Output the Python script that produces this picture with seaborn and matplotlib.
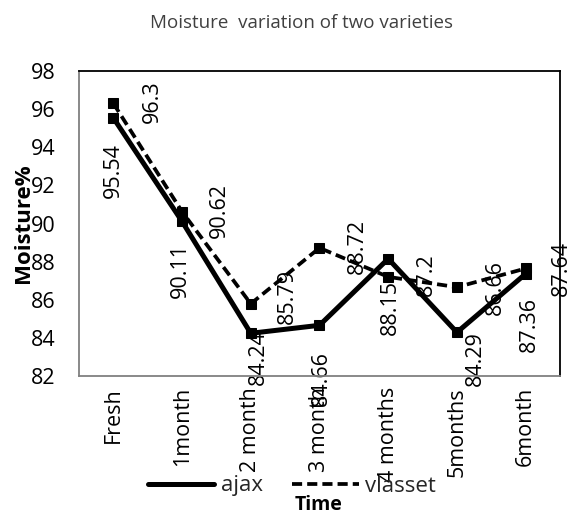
import matplotlib
matplotlib.use("Agg")
import matplotlib.pyplot as plt
import seaborn as sns
import pandas as pd
from matplotlib.lines import Line2D

categories = ["Fresh", "1month", "2 month", "3 month", "4 months", "5months", "6month"]
ajax = [95.54, 90.11, 84.24, 84.66, 88.15, 84.29, 87.36]
vlasset = [96.3, 90.62, 85.79, 88.72, 87.2, 86.66, 87.64]
yticks = [82, 84, 86, 88, 90, 92, 94, 96, 98]

# label placement (pixels), styling only
ajax_dx = [0, -2, 8, 2, 2, 18, 4]
ajax_dy = [-53, -49, -24, -53, -49, -26, -51]
vl_dx = [39, 37, 37, 38, 38, 38, 36]
vl_dy = [2, 1, 7, 1, 2, 0, 0]

sns.set_theme(style="white")
plt.rcParams["font.family"] = ["Open Sans", "DejaVu Sans"]

df = pd.DataFrame({
    "Time": list(range(len(categories))) * 2,
    "Moisture": ajax + vlasset,
    "Variety": ["ajax"] * len(ajax) + ["vlasset"] * len(vlasset),
})

fig = plt.figure(figsize=(5.70, 5.14), dpi=100)
ax = fig.add_axes([79/570, 1-376/514, (560-79)/570, (376-71)/514])

sns.lineplot(data=df, x="Time", y="Moisture", hue="Variety", style="Variety",
             palette={"ajax": "black", "vlasset": "black"},
             dashes={"ajax": "", "vlasset": (2.7, 1.35)},
             size="Variety", sizes={"ajax": 3.6, "vlasset": 2.7},
             markers={"ajax": "s", "vlasset": "s"}, markersize=6.5,
             markeredgecolor="black", legend=False, ax=ax)

ax.set_xlim(-0.5, len(categories) - 0.5)
ax.set_ylim(82, 98)
ax.set_yticks(yticks)
ax.set_yticklabels([str(v) for v in yticks], fontsize=15.5, color="black")
ax.set_xticks(range(len(categories)))
ax.set_xticklabels(categories, rotation=90, fontsize=15.5, color="black", va="top", ha="center")
ax.tick_params(axis="y", length=0, pad=17)
ax.tick_params(axis="x", length=0, pad=8)

for side in ["top", "right"]:
    ax.spines[side].set_color("black")
    ax.spines[side].set_linewidth(1.3)
for side in ["left", "bottom"]:
    ax.spines[side].set_color("#808080")
    ax.spines[side].set_linewidth(1.3)

for i, v in enumerate(ajax):
    ax.annotate(f"{v:g}", (i, v), xytext=(ajax_dx[i], ajax_dy[i]), textcoords="offset pixels",
                rotation=90, ha="center", va="center", fontsize=15.5, color="black", zorder=1)
for i, v in enumerate(vlasset):
    ax.annotate(f"{v:g}", (i, v), xytext=(vl_dx[i], vl_dy[i]), textcoords="offset pixels",
                rotation=90, ha="center", va="center", fontsize=15.5, color="black", zorder=1)

ax.set_xlabel("")
ax.set_ylabel("Moisture%", fontsize=16, fontweight="bold", color="black")
ax.yaxis.set_label_coords((34 - 79) / 481, 0.5)

fig.text(301/570, 1-23/514, "Moisture  variation of two varieties", ha="center",
         va="center", fontsize=13.5, color="#404040")
fig.text(319/570, 1-505/514, "Time", ha="center", va="center", fontsize=14,
         fontweight="bold", color="black")

handles = [Line2D([0], [0], color="black", lw=3.6),
           Line2D([0], [0], color="black", lw=2.7, dashes=(2.7, 1.35))]
fig.legend(handles, ["ajax", "vlasset"], loc="center", bbox_to_anchor=(292/570, 1-486/514),
           ncol=2, frameon=False, fontsize=16, handlelength=3.0, columnspacing=1.3,
           handletextpad=0.3)

fig.savefig("out.png", dpi=100)
